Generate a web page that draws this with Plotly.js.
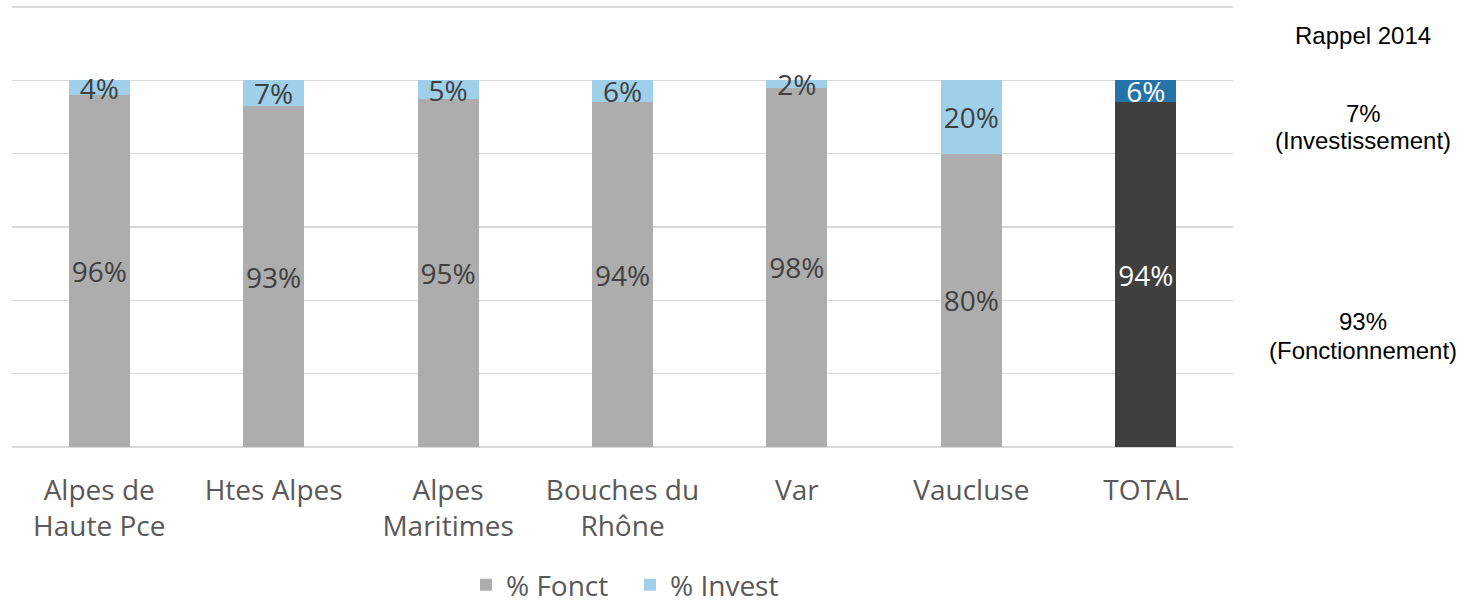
<!DOCTYPE html>
<html>
<head>
<meta charset="utf-8">
<script src="https://cdn.plot.ly/plotly-3.0.1.min.js"></script>
<style>html,body{margin:0;padding:0;background:#fff;}#chart{width:1474px;height:604px;}</style>
</head>
<body>
<div id="chart"></div>
<script>
const categories = ["Alpes de<br>Haute Pce", "Htes Alpes", "Alpes<br>Maritimes", "Bouches du<br>Rhône", "Var", "Vaucluse", "TOTAL"];
const fonctValues = [96, 93, 95, 94, 98, 80, 94];
const investValues = [4, 7, 5, 6, 2, 20, 6];
const fonctColors = ["#ADADAD", "#ADADAD", "#ADADAD", "#ADADAD", "#ADADAD", "#ADADAD", "#404040"];
const investColors = ["#A0CFEA", "#A0CFEA", "#A0CFEA", "#A0CFEA", "#A0CFEA", "#A0CFEA", "#2574A9"];
const labelColors = ["#404040", "#404040", "#404040", "#404040", "#404040", "#404040", "#FFFFFF"];
const seriesNames = ["% Fonct", "% Invest"];
const rappelTitle = "Rappel 2014";
const rappelLines = ["7%", "(Investissement)", "93%", "(Fonctionnement)"];
const yTicks = [0, 20, 40, 60, 80, 100, 120];

const font = "'Open Sans', sans-serif";
const traces = [
  {
    type: "bar", name: seriesNames[0], x: categories, y: fonctValues,
    marker: {color: fonctColors},
    text: fonctValues.map(v => v + "%"), textposition: "inside", insidetextanchor: "middle",
    textangle: 0, constraintext: "none",
    textfont: {family: font, size: 28, color: labelColors},
    hoverinfo: "none"
  },
  {
    type: "bar", name: seriesNames[1], x: categories, y: investValues,
    marker: {color: investColors},
    text: investValues.map(v => v + "%"), textposition: "inside", insidetextanchor: "middle",
    textangle: 0, constraintext: "none",
    textfont: {family: font, size: 28, color: labelColors},
    hoverinfo: "none"
  }
];

const annFont = {family: "'Liberation Sans', Arial, sans-serif", size: 24, color: "#000000"};
const annY = [0.725 + 0.031, 0.725 - 0.031, 0.252 + 0.033, 0.252 - 0.033];
const annotations = [
  {xref: "paper", yref: "paper", x: 1.1065, y: 0.932, text: rappelTitle, showarrow: false, font: annFont, xanchor: "center", yanchor: "middle"}
].concat(rappelLines.map((t, i) => ({
  xref: "paper", yref: "paper", x: 1.1065, y: annY[i], text: t, showarrow: false, font: annFont, xanchor: "center", yanchor: "middle"
})));

const layout = {
  width: 1474, height: 604,
  margin: {l: 12, r: 241, t: 6, b: 157, pad: 0, autoexpand: false},
  paper_bgcolor: "#FFFFFF", plot_bgcolor: "#FFFFFF",
  barmode: "stack", bargap: 0.65,
  font: {family: font, color: "#595959"},
  xaxis: {
    type: "category", showgrid: false, zeroline: false, showline: false, ticks: "",
    tickfont: {family: font, size: 28, color: "#595959"}, ticklabelstandoff: 24
  },
  yaxis: {
    range: [0, 120.3], tickvals: yTicks, showticklabels: false, showgrid: true,
    gridcolor: "#D9D9D9", gridwidth: 1.5, zeroline: true, zerolinecolor: "#D9D9D9", zerolinewidth: 1.5,
    showline: false, ticks: ""
  },
  showlegend: true,
  legend: {
    orientation: "h", traceorder: "normal", xref: "container", yref: "paper",
    x: 0.4274, xanchor: "center", y: -0.313, yanchor: "middle", entrywidth: 119,
    font: {family: font, size: 28, color: "#595959"}, bgcolor: "rgba(0,0,0,0)"
  },
  annotations: annotations
};

Plotly.newPlot("chart", traces, layout, {displayModeBar: false, staticPlot: true});
</script>
</body>
</html>
